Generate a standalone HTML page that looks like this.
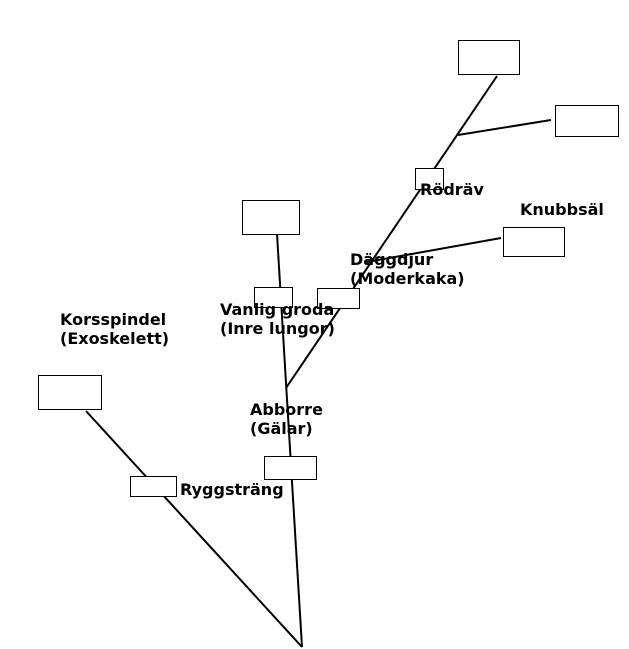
<!DOCTYPE html>
<html><head><style>
html,body{margin:0;padding:0;background:#fff;}
svg{display:block;}
text{font-family:"DejaVu Sans","Liberation Sans",sans-serif;font-weight:bold;font-size:16px;fill:#000;}
</style></head><body>
<svg width="629" height="649" viewBox="0 0 629 649" xmlns="http://www.w3.org/2000/svg">
<g stroke="#000" stroke-width="2" fill="none">
<line x1="302" y1="647" x2="277" y2="234"/>
<line x1="302" y1="647" x2="86" y2="411"/>
<line x1="286" y1="388" x2="497" y2="76"/>
<line x1="367" y1="262" x2="501" y2="238"/>
<line x1="458" y1="135" x2="551" y2="120"/>
</g>
<g stroke="#000" stroke-width="1" fill="#fff">
<rect x="458.5" y="40.5" width="61" height="34"/>
<rect x="555.5" y="105.5" width="63" height="31"/>
<rect x="415.5" y="168.5" width="28" height="21"/>
<rect x="242.5" y="200.5" width="57" height="34"/>
<rect x="503.5" y="227.5" width="61" height="29"/>
<rect x="254.5" y="287.5" width="38" height="20"/>
<rect x="317.5" y="288.5" width="42" height="20"/>
<rect x="38.5" y="375.5" width="63" height="34"/>
<rect x="264.5" y="456.5" width="52" height="23"/>
<rect x="130.5" y="476.5" width="46" height="20"/>
</g>
<text x="420" y="195">Rödräv</text>
<text x="520" y="215">Knubbsäl</text>
<text x="350" y="265">Däggdjur</text>
<text x="350" y="284">(Moderkaka)</text>
<text x="220" y="315">Vanlig groda</text>
<text x="220" y="334">(Inre lungor)</text>
<text x="60" y="325">Korsspindel</text>
<text x="60" y="344">(Exoskelett)</text>
<text x="250" y="415">Abborre</text>
<text x="250" y="434">(Gälar)</text>
<text x="180" y="495">Ryggsträng</text>
</svg>
</body></html>
